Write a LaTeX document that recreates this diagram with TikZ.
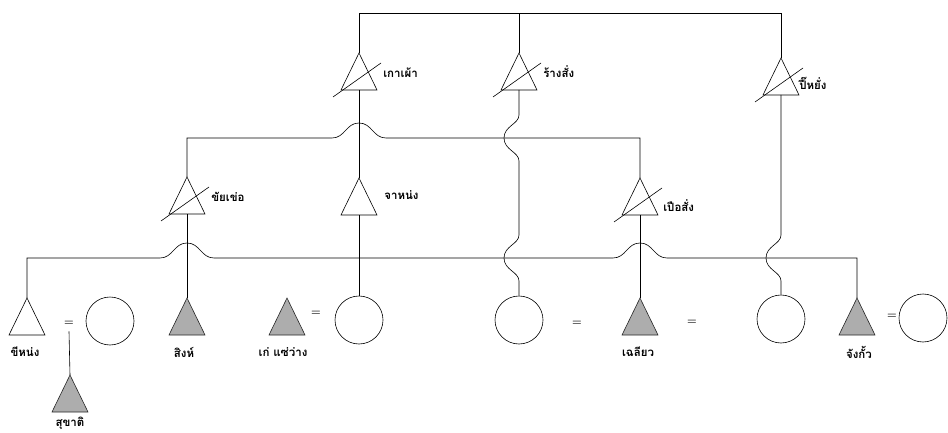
\documentclass[tikz,border=0pt]{standalone}
\usepackage{fontspec}
\newfontfamily\thai[Script=Thai]{Loma}
\usetikzlibrary{calc}
\definecolor{triGray}{gray}{0.68}
\newcommand\myhump[1]{-- ($(#1)+(-27,0)$) .. controls ($(#1)+(-14,0)$) and ($(#1)+(-13,-15)$) .. ($(#1)+(0,-15)$) .. controls ($(#1)+(13,-15)$) and ($(#1)+(14,0)$) .. ($(#1)+(27,0)$)}
\newcommand\mywig[1]{-- ($(#1)+(0,-23)$) .. controls ($(#1)+(0,-14)$) and ($(#1)+(-15,-12)$) .. ($(#1)+(-15,0)$) .. controls ($(#1)+(-15,12)$) and ($(#1)+(0,14)$) .. ($(#1)+(0,23)$)}
\tikzset{
  tri/.pic={\draw[pic actions] (0,0) coordinate (-top) -- (18,37) -- (-18,37) -- cycle; \coordinate (-bot) at (0,37);},
  dtri/.pic={\draw[pic actions] (0,0) coordinate (-top) -- (18,37) -- (-18,37) -- cycle; \coordinate (-bot) at (0,37); \draw (-26,44) -- (22,10);},
  male/.style={fill=triGray, draw=black!85},
  lbl/.style={font=\thai\bfseries\fontsize{11.5}{13}\selectfont, inner sep=0pt},
  circ/.style={draw, circle, minimum size=48pt, inner sep=0pt},
  eq/.style={font=\bfseries\fontsize{11}{11}\selectfont, inner sep=0pt},
}
\begin{document}
\begin{tikzpicture}[x=1pt,y=-1pt,line width=0.6pt]
\useasboundingbox (0,0) rectangle (948,433);
% levels
\coordinate (topbar) at (0,13);
\coordinate (midbar) at (0,138);
\coordinate (lowbar) at (0,258);
% top generation
\pic (kp) at (359,53) {dtri};
\node[lbl, anchor=west] (kpL) at (383,73) {เกาเผ้า};
\pic (rs) at (519,53) {dtri};
\node[lbl, anchor=west] (rsL) at (543,72) {ร้างสั่ง};
\pic (py) at (781,58) {dtri};
\node[lbl, anchor=west] (pyL) at (799,83) {ปึ๊หยั่ง};
% second generation
\pic (ky) at (187,177) {dtri};
\node[lbl, anchor=west] (kyL) at (211,197) {ขัยเข่อ};
\pic (jn) at (359,178) {tri};
\node[lbl, anchor=west] (jnL) at (384,195) {จาหน่ง};
\pic (ps) at (640,178) {dtri};
\node[lbl, anchor=west] (psL) at (663,206) {เปือสั่ง};
% third generation
\pic (kn) at (27,298) {tri};
\node[lbl] (knL) at (25,352) {ขีหน่ง};
\node[eq] (eq1) at (69,323) {=};
\node[circ] (c1) at (110,321) {};
\pic[male] (sk) at (70,375) {tri};
\node[lbl] (skL) at (70,423) {สุขาติ};
\pic[male] (sg) at (187,298) {tri};
\node[lbl] (sgL) at (184,352) {สิงห์};
\pic[male] (ks) at (287,298) {tri};
\node[lbl] (ksL) at (283,352) {เก่ แซ่ว่าง};
\node[eq] (eq2) at (316,313) {=};
\node[circ] (c2) at (359,320) {};
\node[circ] (c3) at (519,320) {};
\node[eq] (eq3) at (577,323) {=};
\pic[male] (cl) at (640,298) {tri};
\node[lbl] (clL) at (638,352) {เฉลียว};
\node[eq] (eq4) at (692,322) {=};
\node[circ] (c4) at (781,319) {};
\pic[male] (jk) at (857,298) {tri};
\node[lbl] (jkL) at (859,352) {จังกั้ว};
\node[eq] (eq5) at (892,316) {=};
\node[circ] (c5) at (923,318) {};
% crossing points
\coordinate (h0) at (kp-bot |- midbar);
\coordinate (h1) at (sg-top |- lowbar);
\coordinate (h2) at (cl-top |- lowbar);
\coordinate (w1) at (rs-bot |- midbar);
\coordinate (w2) at (rs-bot |- lowbar);
\coordinate (w3) at (py-bot |- lowbar);
% connectors
\draw (kp-top) -- (kp-top |- topbar) -- (py-top |- topbar) -- (py-top);
\draw (rs-top) -- (rs-top |- topbar);
\draw (ky-top) -- (ky-top |- midbar) \myhump{h0} -- (ps-top |- midbar) -- (ps-top);
\draw (kn-top) -- (kn-top |- lowbar) \myhump{h1} \myhump{h2} -- (jk-top |- lowbar) -- (jk-top);
\draw (kp-bot) -- (jn-top);
\draw (jn-bot) -- (c2.north);
\draw (ky-bot) -- (sg-top);
\draw (ps-bot) -- (cl-top);
\draw (rs-bot) \mywig{w1} \mywig{w2} -- (c3.north);
\draw (py-bot) \mywig{w3} -- (c4.north);
\draw ($(eq1.south)+(0,6)$) -- (sk-top);
\end{tikzpicture}
\end{document}
